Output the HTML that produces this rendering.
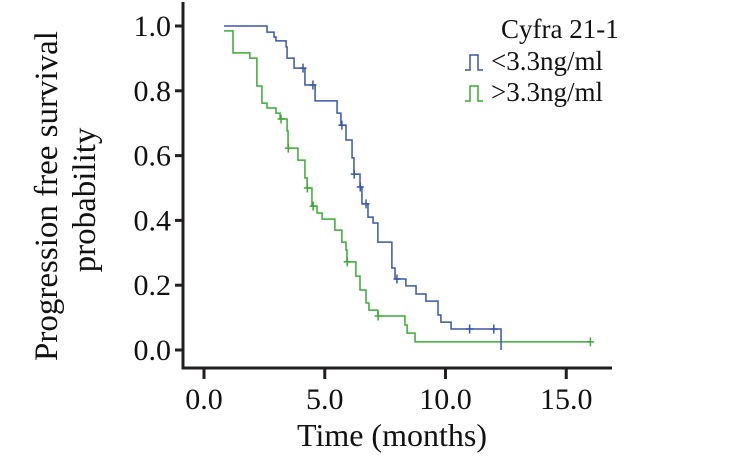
<!DOCTYPE html>
<html><head><meta charset="utf-8"><style>
html,body{margin:0;padding:0;background:#fff;}
svg text{font-family:"Liberation Serif",serif;fill:#111;}
</style></head><body>
<svg id="chart" width="754" height="461" viewBox="0 0 754 461" xmlns="http://www.w3.org/2000/svg">
<g id="axes"></g><g id="series"></g>
<text x="0" y="0" font-size="33" font-family="Liberation Serif, serif" text-anchor="middle" transform="translate(57,196) rotate(-90)">Progression free survival</text>
<text x="0" y="0" font-size="33" font-family="Liberation Serif, serif" text-anchor="middle" transform="translate(95,200) rotate(-90)">probability</text>
<text x="392" y="446" font-size="32" font-family="Liberation Serif, serif" text-anchor="middle">Time (months)</text>
<g>
<text x="501" y="38" font-size="27" font-family="Liberation Serif, serif">Cyfra 21-1</text>
<path d="M465,70 H470 V55 H478 V70 H483" fill="none" stroke="#3a57a7" stroke-width="1.5"/>
<text x="491" y="70" font-size="27" font-family="Liberation Serif, serif">&lt;3.3ng/ml</text>
<path d="M465,101 H470 V86 H478 V101 H483" fill="none" stroke="#3aaa35" stroke-width="1.5"/>
<text x="491" y="101" font-size="27" font-family="Liberation Serif, serif">&gt;3.3ng/ml</text>
</g>
</svg>
<script>
const xTicks=[0,5,10,15];
const xTickLabels=["0.0","5.0","10.0","15.0"];
const yTicks=[0,0.2,0.4,0.6,0.8,1.0];
const yTickLabels=["0.0","0.2","0.4","0.6","0.8","1.0"];
const lowStart=[0.83,1.0];
const lowTimes=[2.61,2.90,2.98,3.40,3.44,3.73,4.18,4.60,5.51,5.67,5.88,6.13,6.21,6.46,6.54,6.79,7.00,7.20,7.78,7.91,8.36,8.78,9.19,9.69,9.81,10.23,12.30];
const lowSurv=[0.981,0.966,0.954,0.935,0.901,0.870,0.818,0.769,0.731,0.694,0.648,0.593,0.543,0.503,0.451,0.410,0.392,0.333,0.253,0.219,0.198,0.173,0.151,0.108,0.086,0.065,0];
const lowCensor=[4.10,4.51,5.71,6.22,6.47,6.71,7.99,11.0,12.0];
const highStart=[0.83,0.985];
const highTimes=[1.20,1.90,2.19,2.40,2.61,2.98,3.15,3.44,3.48,3.89,4.18,4.27,4.47,4.68,4.89,5.42,5.71,5.88,5.92,6.29,6.46,6.71,6.83,7.20,8.32,8.41,8.74];
const highSurv=[0.917,0.901,0.815,0.762,0.747,0.731,0.713,0.676,0.623,0.586,0.531,0.500,0.444,0.423,0.404,0.370,0.333,0.309,0.272,0.228,0.185,0.145,0.123,0.105,0.077,0.052,0.025];
const highCensor=[3.19,3.49,4.28,4.52,5.93,7.21,16.0];
const highEnd=16.0;

const X=t=>204+24.15*t, Y=s=>350-324*s;
const NS="http://www.w3.org/2000/svg";
function mk(tag,attrs,parent){const e=document.createElementNS(NS,tag);for(const k in attrs)e.setAttribute(k,attrs[k]);parent.appendChild(e);return e;}
const axes=document.getElementById('axes'), ser=document.getElementById('series');
let a=mk('path',{d:'M183,2 V368 H612',fill:'none',stroke:'#231f20','stroke-width':3},axes);


xTicks.forEach((v,i)=>{
 const l=mk('line',{x1:X(v),x2:X(v),y1:368,y2:379,stroke:'#231f20','stroke-width':3},axes);
 
 
 const t=mk('text',{x:X(v),y:409,'font-size':30,'font-family':'Liberation Serif, serif','text-anchor':'middle'},axes);t.textContent=xTickLabels[i];
 
 
});
yTicks.forEach((v,i)=>{
 const l=mk('line',{x1:175,x2:183,y1:Y(v),y2:Y(v),stroke:'#231f20','stroke-width':3},axes);
 
 
 const t=mk('text',{x:171,y:Y(v)+10,'font-size':30,'font-family':'Liberation Serif, serif','text-anchor':'end'},axes);t.textContent=yTickLabels[i];
 
 
});
function survAt(start,times,surv,t){let s=start[1];for(let i=0;i<times.length;i++){if(times[i]<=t)s=surv[i];}return s;}
function draw(start,times,surv,censor,end,color,name){
 let d='M'+X(start[0])+','+Y(start[1]);
 times.forEach((t,i)=>{d+=' H'+X(t)+' V'+Y(surv[i]);});
 if(end!=null)d+=' H'+X(end);
 const p=mk('path',{d:d,fill:'none',stroke:color,'stroke-width':1.5},ser);
 
 
 censor.forEach(t=>{const y=Y(survAt(start,times,surv,t));
  const c=mk('path',{d:'M'+(X(t)-3.5)+','+y+' H'+(X(t)+3.5)+' M'+X(t)+','+(y-4.5)+' V'+(y+4.5),stroke:color,'stroke-width':1.5},ser);
  
  
 });
}
draw(highStart,highTimes,highSurv,highCensor,highEnd,'#3aaa35','high-cyfra');
draw(lowStart,lowTimes,lowSurv,lowCensor,null,'#3a57a7','low-cyfra');
</script>
</body></html>
